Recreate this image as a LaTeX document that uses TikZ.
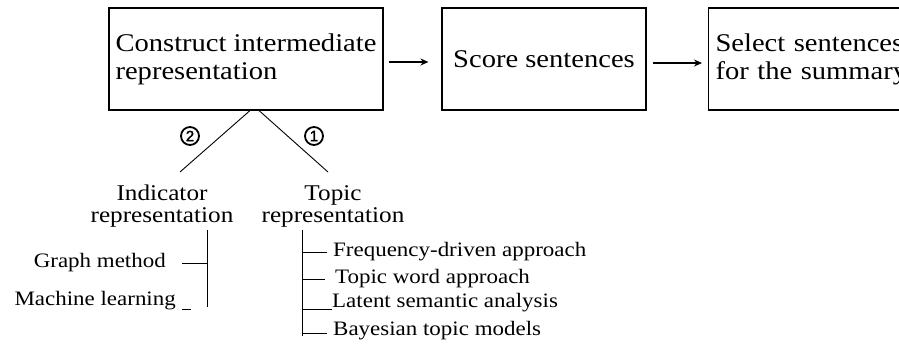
\documentclass[tikz,border=0pt]{standalone}
\usepackage{fontspec}
\setmainfont{Liberation Serif}[FakeStretch=1.12]
\newfontfamily\numfont{Liberation Sans}[FakeBold=2]
\usetikzlibrary{arrows.meta,calc}
\tikzset{
  boxnode/.style={draw, line width=1.1pt, minimum height=102pt, inner sep=0pt, font=\fontsize{25.5}{28}\selectfont},
  labelnode/.style={align=center, inner sep=0pt, font=\fontsize{22.5}{22}\selectfont},
  itemnode/.style={inner sep=0pt, font=\fontsize{20.5}{22}\selectfont},
  numnode/.style={circle, draw, line width=1.8pt, inner sep=0pt, minimum size=18pt, font=\numfont\fontsize{15}{15}\selectfont},
  thin line/.style={line width=0.9pt},
  flowarrow/.style={line width=1.3pt, -{Stealth[length=8pt,width=7pt]}}
}
\begin{document}
\begin{tikzpicture}[x=1pt,y=-1pt]
\useasboundingbox (0,0) rectangle (899,345);
\clip (0,0) rectangle (899,345);
% boxes
\node[boxnode, minimum width=274pt, align=left] (b1) at (246,59) {Construct intermediate\\representation};
\node[boxnode, minimum width=204pt] (b2) at (544,59) {Score sentences};
\node[boxnode, minimum width=240pt, align=left, anchor=west, text width=226pt] (b3) at (708,59) {Select sentences\\for the summary};
% arrows
\draw[flowarrow] ([xshift=5pt,yshift=-3pt]b1.east) -- ([xshift=-13pt,yshift=-3pt]b2.west);
\draw[flowarrow] ([xshift=6pt,yshift=-4pt]b2.east) -- ([xshift=-6pt,yshift=-4pt]b3.west);
% representation labels
\node[labelnode] (ind) at (162,206) {Indicator\\representation};
\node[labelnode] (top) at (333,206) {Topic\\representation};
\coordinate (le) at (180,172);
\coordinate (re) at (328,172);
\draw[thin line] ([xshift=4pt]b1.south) -- (le);
\draw[thin line] ([xshift=13pt]b1.south) -- (re);
% circled numbers
\node[numnode] (n2) at (190,136) {2};
\node[numnode] (n1) at (314,136) {1};
% indicator branch
\coordinate (iv1) at (207,230);
\coordinate (iv2) at (207,307);
\draw[thin line] (iv1) -- (iv2);
\node[itemnode, anchor=east] (gm) at (166,263) {Graph method};
\node[itemnode, anchor=east] (ml) at (176,301) {Machine learning};
\draw[thin line] ([xshift=16pt]gm.east) -- (gm.east -| iv1);
\draw[thin line] ([xshift=6pt,yshift=-8pt]ml.east) -- ([xshift=15pt,yshift=-8pt]ml.east);
% topic branch
\coordinate (tv1) at (302,230);
\coordinate (tv2) at (302,336);
\draw[thin line] (tv1) -- (tv2);
\node[itemnode, anchor=west] (fd) at (333,252) {Frequency-driven approach};
\node[itemnode, anchor=west] (tw) at (335,279) {Topic word approach};
\node[itemnode, anchor=west] (ls) at (332,303) {Latent semantic analysis};
\node[itemnode, anchor=west] (bt) at (333,331) {Bayesian topic models};
\draw[thin line] ([xshift=-6pt]fd.west) -- (fd.west -| tv1);
\draw[thin line] ([xshift=-10pt]tw.west) -- (tw.west -| tv1);
\draw[thin line] ([yshift=-6pt]ls.west) -- ([yshift=-6pt]ls.west -| tv1);
\draw[thin line] ([xshift=-6pt,yshift=-2pt]bt.west) -- ([yshift=-2pt]bt.west -| tv1);
\end{tikzpicture}
\end{document}
